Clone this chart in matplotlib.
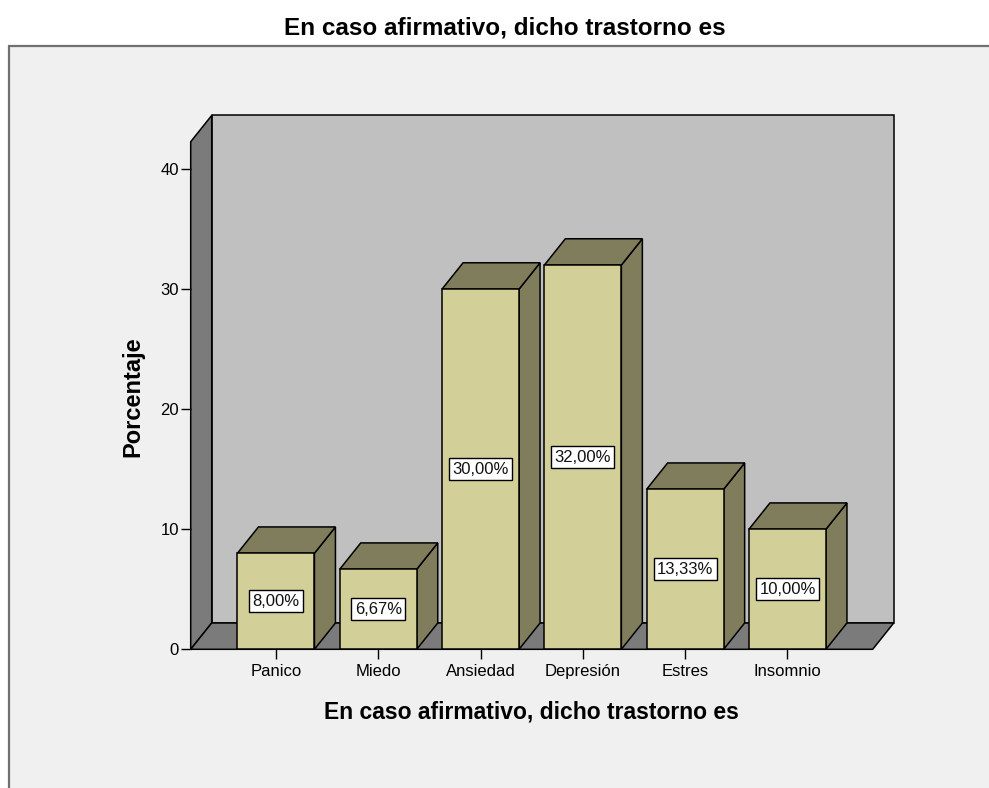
import matplotlib
matplotlib.use("Agg")
import matplotlib.pyplot as plt
from matplotlib.patches import Polygon, Rectangle

categories = ["Panico", "Miedo", "Ansiedad", "Depresión", "Estres", "Insomnio"]
values = [8.00, 6.67, 30.00, 32.00, 13.33, 10.00]
value_labels = ["8,00%", "6,67%", "30,00%", "32,00%", "13,33%", "10,00%"]
yticks = [0, 10, 20, 30, 40]
title = "En caso afirmativo, dicho trastorno es"
xlabel = "En caso afirmativo, dicho trastorno es"
ylabel = "Porcentaje"

plt.rcParams['font.family'] = ['Liberation Sans', 'DejaVu Sans']

W, H = 989, 788
fig = plt.figure(figsize=(W / 100, H / 100), dpi=100)
fig.patch.set_facecolor("white")

# outer frame
frame_ax = fig.add_axes([0, 0, 1, 1])
frame_ax.set_xlim(0, W)
frame_ax.set_ylim(H, 0)
frame_ax.axis("off")
frame_ax.add_patch(Rectangle((9, 46), W + 10, H, facecolor="#f0f0f0",
                             edgecolor="#707070", linewidth=1.6))

# main axes in data coordinates
px_left, px_right = 190.7, 872.7
px_y0, px_y40 = 649.3, 169.0
ax = fig.add_axes([px_left / W, (H - px_y0) / H, (px_right - px_left) / W,
                   (px_y0 - px_y40) / H])
ax.set_facecolor("none")
n = len(categories)
xl, xr = -0.8333, n - 1 + 0.8333
ax.set_xlim(xl, xr)
ax.set_ylim(0, 40)
for s in ax.spines.values():
    s.set_visible(False)

spacing_px = 102.3
dx = 21.0 / spacing_px
dy = 26.3 / 12.008
ytop = 42.27
bw = 77 / spacing_px

ec = "black"
lw = 1.1
wall_dark = "#7b7b7b"
wall_back = "#c0c0c0"
bar_front = "#d3cf98"
bar_dark = "#807d5c"

ax.add_patch(Polygon([(xl + dx, dy), (xr + dx, dy), (xr + dx, ytop + dy), (xl + dx, ytop + dy)],
                     closed=True, facecolor=wall_back, edgecolor=ec, lw=lw, clip_on=False))
ax.add_patch(Polygon([(xl, 0), (xl, ytop), (xl + dx, ytop + dy), (xl + dx, dy)],
                     closed=True, facecolor=wall_dark, edgecolor=ec, lw=lw, clip_on=False))
ax.add_patch(Polygon([(xl, 0), (xr, 0), (xr + dx, dy), (xl + dx, dy)],
                     closed=True, facecolor=wall_dark, edgecolor=ec, lw=lw, clip_on=False))

for i, (v, lab) in enumerate(zip(values, value_labels)):
    x0, x1 = i - bw / 2, i + bw / 2
    ax.add_patch(Polygon([(x1, 0), (x1 + dx, dy), (x1 + dx, v + dy), (x1, v)],
                         closed=True, facecolor=bar_dark, edgecolor=ec, lw=lw, clip_on=False))
    ax.add_patch(Polygon([(x0, v), (x1, v), (x1 + dx, v + dy), (x0 + dx, v + dy)],
                         closed=True, facecolor=bar_dark, edgecolor=ec, lw=lw, clip_on=False))
    ax.add_patch(Rectangle((x0, 0), bw, v, facecolor=bar_front, edgecolor=ec, lw=lw,
                           clip_on=False))
    ax.text(i, v / 2, lab, ha="center", va="center", fontsize=12, color="#111111",
            bbox=dict(boxstyle="square,pad=0.2", facecolor="white", edgecolor="black",
                      linewidth=1.0), zorder=5)

ax.set_xticks(range(n))
ax.set_xticklabels(categories, fontsize=12)
ax.set_yticks(yticks)
ax.set_yticklabels([str(t) for t in yticks], fontsize=12)
ax.tick_params(axis="both", length=7.5, width=1.0, color="black", pad=3)
ax.tick_params(axis="y", pad=1)

fig.text(504.5 / W, 1 - 28 / H, title, ha="center", va="center", fontsize=17.5,
         fontweight="bold")
fig.text(531 / W, 1 - 711.5 / H, xlabel, ha="center", va="center", fontsize=16.5,
         fontweight="bold")
fig.text(133 / W, 1 - 397 / H, ylabel, ha="center", va="center", fontsize=17,
         fontweight="bold", rotation=90)

fig.savefig("out.png", dpi=100)
